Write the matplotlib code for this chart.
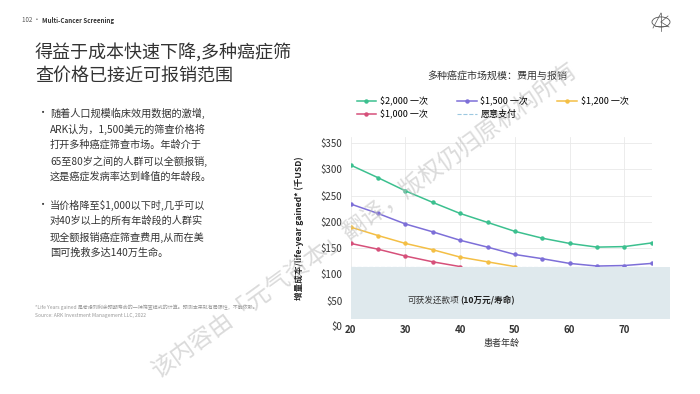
import matplotlib.pyplot as plt
from matplotlib.patches import Rectangle, Circle
from matplotlib.lines import Line2D

plt.rcParams['font.family'] = ['Noto Sans CJK SC', 'DejaVu Sans']

# data (thousand USD per life-year gained)
ages = [20, 25, 30, 35, 40, 45, 50, 55, 60, 65, 70, 75]
cost_2000 = [308, 284, 259, 237, 216, 199, 182, 169, 159, 152, 153, 160]
cost_1500 = [234, 216, 196, 181, 165, 152, 138, 130, 121, 116, 117, 121]
cost_1200 = [190, 174, 159, 147, 133, 124, 115]
cost_1000 = [159, 148, 135, 124, 115]
wtp = 115
shade_low = 15

y_ticks = [50, 100, 150, 200, 250, 300, 350]
x_ticks = [20, 30, 40, 50, 60, 70]

fig = plt.figure(figsize=(7, 3.94), dpi=100)

# ---- left text panel ----
fig.text(22 / 700, 1 - 20 / 394, "102 •", fontsize=4.5, color='#555555', va='center')
fig.text(42 / 700, 1 - 20 / 394, "Multi-Cancer Screening", fontsize=4.5,
         fontweight='bold', color='#333333', va='center')
fig.text(35 / 700, 1 - 52 / 394, "得益于成本快速下降,多种癌症筛", fontsize=13,
         color='#333333', va='center')
fig.text(35 / 700, 1 - 76 / 394, "查价格已接近可报销范围", fontsize=13,
         color='#333333', va='center')

bullet1 = ["随着人口规模临床效用数据的激增,",
           "ARK认为，1,500美元的筛查价格将",
           "打开多种癌症筛查市场。年龄介于",
           "65至80岁之间的人群可以全额报销,",
           "这是癌症发病率达到峰值的年龄段。"]
bullet2 = ["当价格降至$1,000以下时,几乎可以",
           "对40岁以上的所有年龄段的人群实",
           "现全额报销癌症筛查费用,从而在美",
           "国可挽救多达140万生命。"]
y0 = 113
for i, line in enumerate(bullet1):
    fig.text(50 / 700, 1 - (y0 + i * 16) / 394, line, fontsize=7.3,
             color='#333333', va='center')
fig.text(38 / 700, 1 - y0 / 394, "•", fontsize=7.3, color='#333333', va='center')
y1 = 205
for i, line in enumerate(bullet2):
    fig.text(50 / 700, 1 - (y1 + i * 16) / 394, line, fontsize=7.3,
             color='#333333', va='center')
fig.text(38 / 700, 1 - y1 / 394, "•", fontsize=7.3, color='#333333', va='center')

fig.text(35 / 700, 1 - 307 / 394,
         "*Life Years gained 是考虑到剩余预期寿命的一种筛查模式的计算。预测本来就有局限性，不能依赖。",
         fontsize=3.6, color='#999999', va='center')
fig.text(35 / 700, 1 - 316 / 394, "Source: ARK Investment Management LLC, 2022",
         fontsize=3.6, color='#999999', va='center')

# logo
fig.patches.append(Circle((661 / 700, 1 - 22 / 394), 9 / 700, transform=fig.transFigure,
                          fill=False, edgecolor='#555555', linewidth=0.6))
for (xa, ya, xb, yb) in [(661, 13, 661, 31), (661, 13, 653, 28), (661, 22, 669, 27),
                         (661, 22, 668, 16), (655, 26, 667, 26)]:
    fig.lines.append(Line2D([xa / 700, xb / 700], [1 - ya / 394, 1 - yb / 394],
                            transform=fig.transFigure, color='#555555', linewidth=0.5))

# ---- chart ----
ax = fig.add_axes([0.501, 0.190, 0.430, 0.463])

c_green = '#3cc08f'
c_purple = '#7d6fd8'
c_yellow = '#f4bf45'
c_red = '#d6507a'
c_wtp = '#9cc8e0'

l1, = ax.plot(ages, cost_2000, color=c_green, lw=1.1, marker='o', ms=2.2, zorder=2)
l2, = ax.plot(ages, cost_1500, color=c_purple, lw=1.1, marker='o', ms=2.2, zorder=2)
l3, = ax.plot(ages[:len(cost_1200)], cost_1200, color=c_yellow, lw=1.1, marker='o',
              ms=2.2, zorder=2)
l4, = ax.plot(ages[:len(cost_1000)], cost_1000, color=c_red, lw=1.1, marker='o',
              ms=2.2, zorder=2)
l5 = ax.axhline(wtp, color=c_wtp, lw=0.8, ls='--', zorder=1)

ax.add_patch(Rectangle((20, shade_low), 78.3 - 20, wtp - shade_low, facecolor='#dfe9ed',
                       edgecolor='none', clip_on=False, zorder=3))
ax.text(30.3, 50, "可获发还款项", fontsize=6.2, color='#333333', va='center', zorder=4)
ax.text(40.0, 50, "(10万元/寿命)", fontsize=6.2, color='#222222', fontweight='bold',
        va='center', zorder=4)

ax.set_xlim(20, 75)
ax.set_ylim(shade_low, 362)
ax.set_xticks(x_ticks)
ax.set_yticks(y_ticks)
ax.set_yticklabels([f"${v}" for v in y_ticks])
ax.annotate("$0", xy=(20, 0), xycoords='data', xytext=(-6, 0), textcoords='offset points',
            ha='right', va='center', fontsize=7, color='#333333', annotation_clip=False)
ax.tick_params(length=0, labelsize=7, colors='#333333')
ax.tick_params(axis='y', pad=6)
ax.tick_params(axis='x', pad=4)
for lab in ax.get_xticklabels():
    lab.set_fontweight('bold')
for s in ax.spines.values():
    s.set_visible(False)
ax.grid(True, color='#e9e9e9', lw=0.6, zorder=0)
ax.axvline(75, color='#e9e9e9', lw=0.6, zorder=0)
ax.set_axisbelow(True)

ax.set_xlabel("患者年龄", fontsize=6.5, color='#333333', labelpad=3)
ax.set_ylabel("增量成本/life-year gained* (千USD)", fontsize=6.2, color='#222222',
              fontweight='bold', labelpad=12)

fig.text(497 / 700, 1 - 76 / 394, "多种癌症市场规模：费用与报销", fontsize=7.2,
         color='#333333', ha='center', va='center')

handles = [l1, l4, l2, l5, l3]
labels = ["$2,000 一次", "$1,000 一次", "$1,500 一次", "愿意支付", "$1,200 一次"]
fig.legend(handles, labels, ncol=3, loc='upper left',
           bbox_to_anchor=(352 / 700, 1 - 92 / 394), frameon=False, fontsize=6.5,
           handlelength=2.2, handletextpad=0.4, columnspacing=3.2, labelspacing=0.45,
           borderpad=0)

# watermark
fig.text(365 / 700, 1 - 220 / 394, "该内容由「元气资本」翻译，版权仍归原机构所有",
         fontsize=17, color='#bdbdbd', alpha=0.55, rotation=36, ha='center', va='center')

fig.savefig("out.png", dpi=100)
